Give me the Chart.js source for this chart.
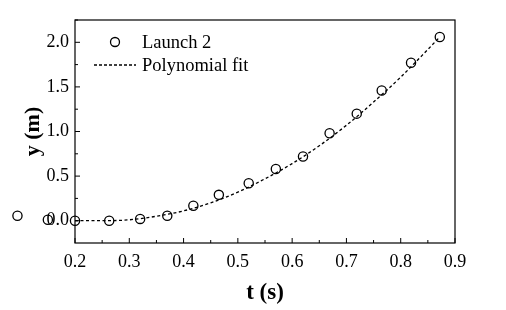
<!DOCTYPE html>
<html>
<head>
<meta charset="utf-8">
<script src="https://cdn.jsdelivr.net/npm/chart.js@4.4.0/dist/chart.umd.min.js"></script>
<style>
  html, body { margin: 0; padding: 0; background: #fff; }
  #wrap { width: 506px; height: 310px; }
</style>
</head>
<body>
<div id="wrap"><canvas id="chart" width="506" height="310"></canvas></div>
<script>
// measured points (launch 2); the first two sit left of the axis
const launchT = [0.094, 0.15, 0.2, 0.263, 0.32, 0.37, 0.418, 0.465, 0.52, 0.57, 0.62, 0.669, 0.719, 0.765, 0.819, 0.872];
const launchY = [0.055, 0.01, 0.0, 0.0, 0.02, 0.055, 0.167, 0.29, 0.42, 0.58, 0.72, 0.98, 1.2, 1.46, 1.77, 2.06];

// polynomial fit curve
const fitT = [0.2, 0.25, 0.3, 0.35, 0.4, 0.45, 0.5, 0.55, 0.6, 0.65, 0.7, 0.75, 0.8, 0.85, 0.872];
const fitY = [0.0, 0.0, 0.01, 0.05, 0.11, 0.2, 0.32, 0.47, 0.64, 0.84, 1.07, 1.33, 1.61, 1.92, 2.06];

const xTicks = [0.2, 0.3, 0.4, 0.5, 0.6, 0.7, 0.8, 0.9];
const yTicks = [0.0, 0.5, 1.0, 1.5, 2.0];

const serif = '"Liberation Serif", "Times New Roman", serif';

// Chart.js skips points outside the chart area, draw those ones here
const outsidePoints = {
  id: 'outsidePoints',
  afterDatasetsDraw(chart) {
    const ctx = chart.ctx;
    const a = chart.chartArea;
    const meta = chart.getDatasetMeta(1);
    ctx.save();
    ctx.strokeStyle = '#000';
    ctx.lineWidth = 1.3;
    meta.data.forEach(function(pt) {
      if (pt.x < a.left - 4 || pt.x > a.right + 4) {
        ctx.beginPath();
        ctx.arc(pt.x, pt.y, 4.6, 0, Math.PI * 2);
        ctx.stroke();
      }
    });
    ctx.restore();
  }
};

// box + inward ticks + legend
const framePlugin = {
  id: 'frame',
  afterDraw(chart) {
    const ctx = chart.ctx;
    const a = chart.chartArea;
    const xs = chart.scales.x, ys = chart.scales.y;
    ctx.save();
    ctx.strokeStyle = '#000';
    ctx.lineWidth = 1.2;
    ctx.strokeRect(a.left, a.top, a.right - a.left, a.bottom - a.top);

    ctx.lineWidth = 1;
    ctx.beginPath();
    xTicks.forEach(function(v, i) {
      const px = xs.getPixelForValue(v);
      ctx.moveTo(px, a.bottom); ctx.lineTo(px, a.bottom - 5);
      if (i < xTicks.length - 1) {
        const pm = xs.getPixelForValue(v + 0.05);
        ctx.moveTo(pm, a.bottom); ctx.lineTo(pm, a.bottom - 3);
      }
    });
    [-0.25].concat(yTicks).forEach(function(v) {
      const py = ys.getPixelForValue(v);
      if (v >= 0) { ctx.moveTo(a.left, py); ctx.lineTo(a.left + 5, py); }
      const pm = ys.getPixelForValue(v + 0.25);
      ctx.moveTo(a.left, pm); ctx.lineTo(a.left + 3, pm);
    });
    ctx.stroke();

    // legend
    ctx.font = '18.5px ' + serif;
    ctx.fillStyle = '#000';
    ctx.textBaseline = 'middle';
    ctx.lineWidth = 1.3;
    ctx.beginPath();
    ctx.arc(115, 42, 4.5, 0, Math.PI * 2);
    ctx.stroke();
    ctx.fillText('Launch 2', 142, 43);
    ctx.setLineDash([3, 2]);
    ctx.beginPath();
    ctx.moveTo(94, 65); ctx.lineTo(136, 65);
    ctx.stroke();
    ctx.setLineDash([]);
    ctx.fillText('Polynomial fit', 142, 66);
    ctx.restore();
  }
};

new Chart(document.getElementById('chart'), {
  type: 'scatter',
  data: {
    datasets: [
      {
        label: 'Polynomial fit',
        type: 'line',
        data: fitT.map(function(t, i) { return { x: t, y: fitY[i] }; }),
        borderColor: '#000',
        borderWidth: 1.3,
        borderDash: [3, 2.5],
        pointRadius: 0,
        fill: false,
        cubicInterpolationMode: 'monotone'
      },
      {
        label: 'Launch 2',
        data: launchT.map(function(t, i) { return { x: t, y: launchY[i] }; }),
        borderColor: '#000',
        backgroundColor: 'rgba(0,0,0,0)',
        borderWidth: 1.3,
        pointRadius: 4.6,
        clip: false
      }
    ]
  },
  options: {
    responsive: false,
    animation: false,
    events: [],
    layout: { padding: { top: 20, right: 51, left: 0, bottom: 0 } },
    plugins: { legend: { display: false }, tooltip: { enabled: false } },
    scales: {
      x: {
        type: 'linear',
        min: 0.2,
        max: 0.9,
        afterBuildTicks: function(s) { s.ticks = xTicks.map(function(v) { return { value: v }; }); },
        afterFit: function(s) { s.height = 67; },
        grid: { display: false, drawTicks: false },
        border: { display: false },
        ticks: {
          padding: 8,
          color: '#000',
          font: { family: serif, size: 18 },
          callback: function(v) { return v.toFixed(1); }
        },
        title: {
          display: true,
          text: 't (s)',
          color: '#000',
          font: { family: serif, size: 23, weight: 'bold' },
          padding: { top: 0, bottom: 3 }
        }
      },
      y: {
        type: 'linear',
        min: -0.25,
        max: 2.25,
        afterBuildTicks: function(s) { s.ticks = yTicks.map(function(v) { return { value: v }; }); },
        afterFit: function(s) { s.width = 75; },
        grid: { display: false, drawTicks: false },
        border: { display: false },
        ticks: {
          padding: 6,
          color: '#000',
          font: { family: serif, size: 18 },
          callback: function(v) { return v.toFixed(1); }
        },
        title: {
          display: true,
          text: 'y (m)',
          color: '#000',
          font: { family: serif, size: 22, weight: 'bold' },
          padding: { top: 20, bottom: 0 }
        }
      }
    }
  },
  plugins: [outsidePoints, framePlugin]
});
</script>
</body>
</html>
